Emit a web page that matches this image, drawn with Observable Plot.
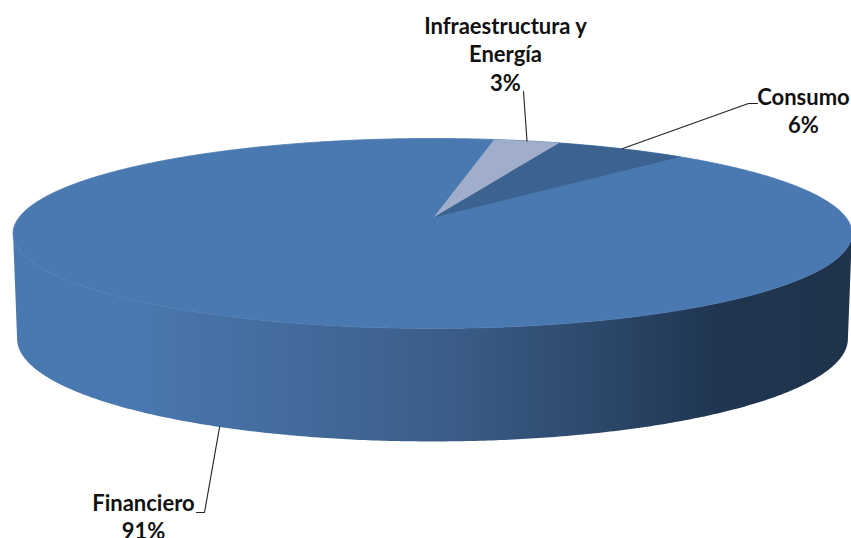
<!DOCTYPE html>
<html>
<head>
<meta charset="utf-8">
<script src="https://cdn.jsdelivr.net/npm/d3@7"></script>
<script src="https://cdn.jsdelivr.net/npm/@observablehq/plot@0.6"></script>
<style>
html,body{margin:0;padding:0;background:#fff;overflow:hidden}
svg{display:block}
</style>
</head>
<body>
<div id="chart"></div>
<script>
const categories = ["Infraestructura y\nEnergía", "Consumo", "Financiero"];
const shares = [3, 6, 91];
const sliceColors = ["#a0aecb", "#3c638f", "#4a78b0"];

// Tilted-disc projection of the pie; h = 0 is the top face, h = 1 the lower rim.
const rad = Math.PI / 180;
const persp = 0.168;
function project(a, h) {
  const X = Math.sin(a), Y = Math.cos(a), d = 1 + persp * Y;
  const R = 413.5 - 4 * h, k = 92.3 + 7.5 * h, y0 = 217 + 104 * h;
  return {x: 432 + R * X / d, y: y0 - k * Y / d};
}
const arcs = d3.pie().sort(null).value(d => d)
  .startAngle(10 * rad).endAngle(370 * rad)(shares);
const rim = (a0, a1, h) => {
  const n = Math.max(2, Math.ceil(Math.abs(a1 - a0) / (rad / 2)));
  return d3.range(n + 1).map(i => project(a0 + (a1 - a0) * i / n, h));
};
const apex = {x: 433, y: 217};
const wedges = arcs.map(s => [apex, ...rim(s.startAngle, s.endAngle, 0)]);
const ex = Math.acos(-persp);
const sideWall = [...rim(ex, 2 * Math.PI - ex, 0), ...rim(2 * Math.PI - ex, ex, 1)];
const topFace = rim(0, 2 * Math.PI, 0);

const mid = s => (s.startAngle + s.endAngle) / 2;
const leaders = [
  [project(mid(arcs[0]), 0), {x: 523, y: 91}],
  [project(mid(arcs[1]), 0), {x: 748, y: 103}, {x: 757, y: 103}],
  [project(mid(arcs[2]), 1), {x: 204, y: 512}, {x: 196, y: 512}]
];
const labelAt = [{x: 505, y: 13}, {x: 803, y: 84}, {x: 143, y: 490}];
const labels = categories.map((c, i) => ({
  text: `${c}\n${shares[i]}%`,
  ...labelAt[i]
}));

const gradient = () => {
  const defs = d3.create("svg:defs");
  const g = defs.append("linearGradient").attr("id", "sideShade");
  [[0, "#4a78b0"], [0.14, "#4a78b0"], [0.3, "#446d9f"], [0.5, "#3c5f8a"],
   [0.68, "#2e4a6e"], [0.84, "#203650"], [1, "#1f334b"]]
    .forEach(([o, c]) => g.append("stop").attr("offset", o).attr("stop-color", c));
  return defs.node();
};

const plot = Plot.plot({
  width: 851, height: 538,
  margin: 0,
  style: {background: "#fff", overflow: "hidden"},
  x: {type: "linear", domain: [0, 851], axis: null},
  y: {type: "linear", domain: [538, 0], axis: null},
  marks: [
    gradient,
    Plot.line(sideWall, {x: "x", y: "y", fill: "url(#sideShade)", stroke: "none", curve: "linear"}),
    Plot.line(topFace, {x: "x", y: "y", fill: sliceColors[2], stroke: sliceColors[2], strokeWidth: 0.8, curve: "linear"}),
    ...wedges.slice(0, 2).map((w, i) =>
      Plot.line(w, {x: "x", y: "y", fill: sliceColors[i], stroke: "none", curve: "linear"})),
    ...leaders.map(l =>
      Plot.line(l, {x: "x", y: "y", stroke: "#222", strokeWidth: 1.1, curve: "linear"})),
    Plot.text(labels, {
      x: "x", y: "y", text: "text",
      lineAnchor: "top", lineHeight: 1.3, textAnchor: "middle",
      fontFamily: "Lato", fontWeight: 700, fontSize: 22, fill: "#111"
    })
  ]
});
document.getElementById("chart").append(plot);
</script>
</body>
</html>
